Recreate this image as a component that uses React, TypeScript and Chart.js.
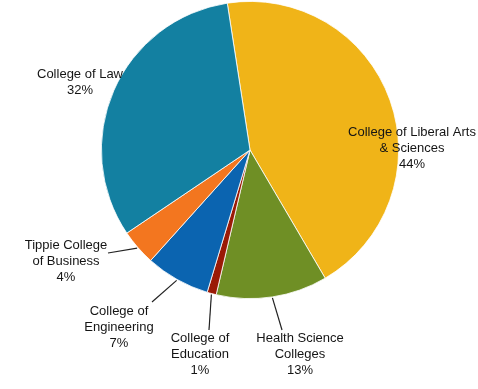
import React, { useEffect, useRef } from "react";
import { Chart, registerables } from "chart.js";

Chart.register(...registerables);

const categories = [
  "College of Liberal Arts & Sciences",
  "Health Science Colleges",
  "College of Education",
  "College of Engineering",
  "Tippie College of Business",
  "College of Law",
];
const shares = [44, 12.1, 1.0, 7.0, 3.9, 32.0];
const pctLabels = ["44%", "13%", "1%", "7%", "4%", "32%"];
const labelLines = [
  ["College of Liberal Arts", "& Sciences"],
  ["Health Science", "Colleges"],
  ["College of", "Education"],
  ["College of", "Engineering"],
  ["Tippie College", "of Business"],
  ["College of Law"],
];
const colors = ["#F0B418", "#6F8F25", "#9A1A06", "#0B64B0", "#F3761F", "#1380A1"];

// label layout: text anchor offset from pie centre, optional leader end offset
const labelLayout = [
  { tx: 162, ty: -18, leader: null },
  { tx: 50, ty: 188, leader: [32, 180] },
  { tx: -50, ty: 188, leader: [-41, 180] },
  { tx: -131, ty: 161, leader: [-98, 152] },
  { tx: -184, ty: 95, leader: [-142, 103] },
  { tx: -170, ty: -76, leader: null },
];

const labelPlugin = {
  id: "pieLabels",
  afterDraw(chart: any) {
    const ctx = chart.ctx;
    const meta = chart.getDatasetMeta(0);
    ctx.save();
    meta.data.forEach((arc: any, i: number) => {
      const { x, y, startAngle, endAngle, outerRadius } = arc.getProps(
        ["x", "y", "startAngle", "endAngle", "outerRadius"],
        true
      );
      const lay = labelLayout[i];
      if (lay.leader) {
        const mid = (startAngle + endAngle) / 2;
        const sx = x + Math.cos(mid) * (outerRadius + 1);
        const sy = y + Math.sin(mid) * (outerRadius + 1);
        ctx.beginPath();
        ctx.strokeStyle = "#222";
        ctx.lineWidth = 1.2;
        ctx.moveTo(sx, sy);
        ctx.lineTo(x + lay.leader[0], y + lay.leader[1]);
        ctx.stroke();
      }
      const lines = [...labelLines[i], pctLabels[i]];
      ctx.font = "13px 'Liberation Sans', Arial, sans-serif";
      ctx.fillStyle = "#151515";
      ctx.textAlign = "center";
      ctx.textBaseline = "middle";
      lines.forEach((t, k) => {
        ctx.fillText(t, x + lay.tx, y + lay.ty + k * 16);
      });
    });
    ctx.restore();
  },
};

export default function App() {
  const ref = useRef<HTMLCanvasElement>(null);
  useEffect(() => {
    if (!ref.current) return;
    const chart = new Chart(ref.current, {
      type: "pie",
      data: {
        labels: categories,
        datasets: [
          {
            data: shares,
            backgroundColor: colors,
            borderColor: "#ffffff",
            borderWidth: 0.8,
          },
        ],
      },
      options: {
        animation: false,
        responsive: true,
        maintainAspectRatio: false,
        rotation: -8.8,
        layout: { padding: { left: 101, right: 79, top: 1, bottom: 90 } },
        plugins: {
          legend: { display: false },
          tooltip: { enabled: false },
        },
      },
      plugins: [labelPlugin],
    });
    return () => chart.destroy();
  }, []);
  return (
    <div style={{ position: "absolute", left: 0, top: 0, width: 478, height: 389, background: "#fff" }}>
      <canvas ref={ref} />
    </div>
  );
}
